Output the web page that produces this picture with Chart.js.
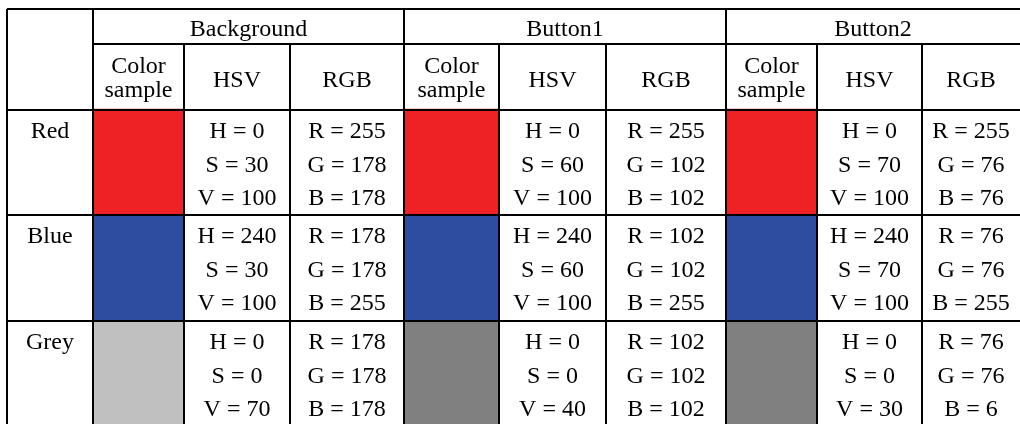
<!DOCTYPE html>
<html>
<head>
<meta charset="utf-8">
<script src="https://cdn.jsdelivr.net/npm/chart.js@4.4.1/dist/chart.umd.min.js"></script>
<style>
    body { margin: 0; background: #ffffff; }
    canvas { display: block; }
</style>
</head>
<body>
<canvas id="table" width="1020" height="424"></canvas>
<script>
// table content
const rowNames = ['Red', 'Blue', 'Grey'];
const groupNames = ['Background', 'Button1', 'Button2'];
const subHeaders = [['Color', 'sample'], ['HSV'], ['RGB']];

const hsvBackground = [[0, 30, 100], [240, 30, 100], [0, 0, 70]];
const hsvButton1 = [[0, 60, 100], [240, 60, 100], [0, 0, 40]];
const hsvButton2 = [[0, 70, 100], [240, 70, 100], [0, 0, 30]];

const rgbBackground = [[255, 178, 178], [178, 178, 255], [178, 178, 178]];
const rgbButton1 = [[255, 102, 102], [102, 102, 255], [102, 102, 102]];
const rgbButton2 = [[255, 76, 76], [76, 76, 255], [76, 76, 6]];

const sampleBackground = ['#ee2224', '#2e4da0', '#c0c0c0'];
const sampleButton1 = ['#ee2224', '#2e4da0', '#808080'];
const sampleButton2 = ['#ee2224', '#2e4da0', '#808080'];

// grid layout (in scale units, which map 1:1 to the canvas)
const colEdges = [7, 93, 184, 290, 404, 499, 606, 726, 817, 922, 1020];
const rowEdges = [9, 44, 110, 215, 321, 427];
const lineStep = 33.5;
const firstBaseline = 28;

const hsv_sets = [hsvBackground, hsvButton1, hsvButton2];
const rgb_sets = [rgbBackground, rgbButton1, rgbButton2];
const sample_sets = [sampleBackground, sampleButton1, sampleButton2];

function rowCenter(i) {
    return (rowEdges[i + 2] + rowEdges[i + 3]) / 2;
}

function colCenter(c) {
    return (colEdges[c] + colEdges[c + 1]) / 2;
}

let rowHeight = (rowEdges[5] - rowEdges[2]) / 3;

// one floating bar dataset per group for the colour sample cells
let datasets = groupNames.map((name, g) => {
    let c = 1 + g * 3;
    return {
        label: name,
        data: rowNames.map((r, i) => ({ x: [colEdges[c], colEdges[c + 1]], y: rowCenter(i) })),
        backgroundColor: sample_sets[g],
        borderWidth: 0,
        grouped: false,
        barThickness: rowHeight + 1
    };
});

const tablePlugin = {
    id: 'tableGrid',
    afterDatasetsDraw(chart) {
        const ctx = chart.ctx;
        const xs = chart.scales.x;
        const ys = chart.scales.y;
        const px = v => xs.getPixelForValue(v);
        const py = v => ys.getPixelForValue(v);
        const last = colEdges.length - 1;
        const bottom = rowEdges[rowEdges.length - 1];

        ctx.save();
        ctx.strokeStyle = '#000000';
        ctx.lineWidth = 2;
        ctx.beginPath();
        // horizontal rules
        ctx.moveTo(px(colEdges[0]), py(rowEdges[0]));
        ctx.lineTo(px(colEdges[last]), py(rowEdges[0]));
        ctx.moveTo(px(colEdges[1]), py(rowEdges[1]));
        ctx.lineTo(px(colEdges[last]), py(rowEdges[1]));
        for (let r = 2; r < rowEdges.length - 1; r++) {
            ctx.moveTo(px(colEdges[0]), py(rowEdges[r]));
            ctx.lineTo(px(colEdges[last]), py(rowEdges[r]));
        }
        // vertical rules (the right border falls outside the picture)
        for (let c = 0; c < last; c++) {
            let top = (c <= 1 || (c - 1) % 3 == 0) ? rowEdges[0] : rowEdges[1];
            ctx.moveTo(px(colEdges[c]), py(top));
            ctx.lineTo(px(colEdges[c]), py(bottom));
        }
        ctx.stroke();

        ctx.fillStyle = '#000000';
        ctx.font = '24px "Liberation Serif", "Times New Roman", serif';
        ctx.textAlign = 'center';
        ctx.textBaseline = 'alphabetic';

        // group headers
        groupNames.forEach((name, g) => {
            let c = 1 + g * 3;
            ctx.fillText(name, px((colEdges[c] + colEdges[c + 3]) / 2), py(36));
            subHeaders.forEach((lines, s) => {
                let x = px(colCenter(c + s));
                if (lines.length == 2) {
                    ctx.fillText(lines[0], x, py(73));
                    ctx.fillText(lines[1], x, py(97));
                } else {
                    ctx.fillText(lines[0], x, py(87));
                }
            });
        });

        // body rows
        rowNames.forEach((name, i) => {
            let base = rowEdges[i + 2] + firstBaseline;
            ctx.fillText(name, px(colCenter(0)), py(base));
            groupNames.forEach((gname, g) => {
                let c = 1 + g * 3;
                let hsv = hsv_sets[g][i];
                let rgb = rgb_sets[g][i];
                ['H', 'S', 'V'].forEach((k, j) => {
                    ctx.fillText(`${k} = ${hsv[j]}`, px(colCenter(c + 1)), py(base + j * lineStep));
                });
                ['R', 'G', 'B'].forEach((k, j) => {
                    ctx.fillText(`${k} = ${rgb[j]}`, px(colCenter(c + 2)), py(base + j * lineStep));
                });
            });
        });
        ctx.restore();
    }
};

const ctx = document.getElementById('table');
let table_chart = new Chart(ctx, {
    type: 'bar',
    plugins: [tablePlugin],
    data: { datasets: datasets },
    options: {
        indexAxis: 'y',
        responsive: false,
        animation: false,
        layout: { padding: 0 },
        plugins: {
            legend: { display: false },
            tooltip: { enabled: false }
        },
        scales: {
            x: { type: 'linear', min: 0, max: 1020, display: false, offset: false },
            y: { type: 'linear', min: 0, max: 424, reverse: true, display: false, offset: false }
        }
    }
});
</script>
</body>
</html>
